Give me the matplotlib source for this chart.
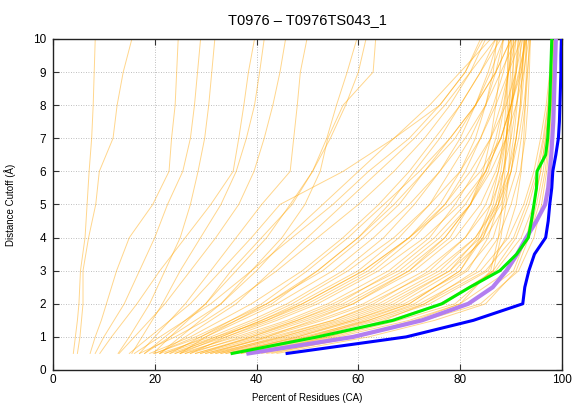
import numpy as np
import matplotlib
matplotlib.use("Agg")
import matplotlib.pyplot as plt

plt.rcParams['font.family'] = ['Liberation Sans', 'DejaVu Sans']

# distance cutoffs used for the highlighted models
cutoffs = [0.5, 1.0, 1.5, 2.0, 2.5, 3.0, 3.5, 4.0, 4.5, 5.0,
           5.5, 6.0, 6.5, 7.0, 7.5, 8.0, 8.5, 9.0, 9.5, 10.0]
green_pct = [35.2, 52.0, 66.8, 76.4, 81.9, 87.8, 91.1, 93.4, 94.0, 94.5,
             95.0, 95.1, 96.8, 97.2, 97.4, 97.6, 97.7, 97.8, 97.9, 98.0]
purple_pct = [38.4, 59.0, 72.5, 81.6, 86.4, 89.1, 91.2, 93.0, 95.0, 96.7,
              97.3, 97.6, 97.9, 98.1, 98.3, 98.4, 98.5, 98.6, 98.7, 98.8]
blue_pct = [46.0, 69.4, 82.6, 92.3, 92.7, 93.5, 94.6, 96.8, 97.3, 97.6,
            98.0, 98.2, 98.8, 99.3, 99.5, 99.6, 99.7, 99.8, 99.8, 99.9]

# coarser cutoffs for the background models
bg_cutoffs = [0.5, 1, 1.5, 2, 3, 4, 5, 6, 7, 8, 9, 10]
bg_models = [
    # sparse, poor models on the left
    [4.0, 4.4, 4.8, 5.1, 5.4, 6.3, 6.7, 7.1, 7.6, 7.9, 8.1, 8.3],
    [4.8, 5.3, 5.6, 5.9, 5.9, 7.0, 8.4, 9.1, 11.8, 12.6, 13.8, 15.5],
    [7.3, 8.3, 9.5, 10.5, 12.5, 15.0, 19.6, 22.8, 23.3, 24.0, 24.3, 24.6],
    [8.3, 10.0, 12.0, 14.0, 17.0, 20.0, 22.5, 25.5, 27.0, 27.8, 28.4, 29.0],
    [12.8, 15.0, 17.0, 19.0, 22.0, 25.0, 27.0, 28.5, 29.8, 30.6, 31.2, 31.8],
    [9.2, 11.5, 14.0, 16.5, 21.0, 26.0, 31.0, 35.4, 36.5, 37.5, 38.4, 39.6],
    [15.5, 17.5, 19.5, 21.5, 25.0, 29.0, 33.0, 36.0, 38.0, 39.6, 40.6, 41.5],
    [13.0, 16.0, 19.0, 22.0, 27.0, 32.0, 36.5, 39.5, 41.5, 43.2, 44.6, 45.7],
    [17.0, 20.0, 23.0, 26.0, 31.0, 36.0, 41.0, 46.6, 47.3, 48.0, 48.6, 49.9],
    [19.7, 23.0, 26.5, 30.0, 35.0, 41.0, 47.0, 51.0, 53.8, 55.7, 57.8, 59.7],
    [18.0, 22.0, 26.0, 30.0, 36.0, 42.0, 46.6, 51.0, 54.5, 57.5, 60.0, 61.5],
    [21.0, 25.0, 29.0, 33.0, 39.0, 45.0, 49.5, 52.5, 54.0, 57.0, 62.9, 63.4],
    # slow diagonal models
    [15.0, 19.0, 23.0, 27.0, 33.0, 39.0, 44.6, 57.0, 67.0, 76.0, 81.0, 84.5],
    [18.0, 23.0, 28.0, 33.0, 40.0, 46.0, 53.0, 60.0, 67.0, 74.0, 80.0, 86.0],
    [21.0, 26.0, 31.0, 36.0, 43.0, 50.0, 57.0, 64.0, 71.0, 77.0, 82.0, 87.0],
    [23.0, 29.0, 35.0, 41.0, 50.0, 58.0, 65.0, 72.0, 78.0, 83.0, 87.0, 90.0],
    [16.0, 21.0, 26.0, 31.0, 39.0, 47.0, 55.0, 62.0, 70.0, 76.0, 81.0, 84.0],
    [25.0, 30.0, 36.0, 43.0, 52.0, 60.0, 66.0, 71.0, 76.0, 80.0, 84.0, 88.0],
    # main bundle
    [17.0, 24.0, 30.0, 35.0, 44.0, 52.0, 60.0, 67.0, 73.0, 78.0, 82.0, 85.0],
    [19.0, 27.0, 33.0, 39.0, 49.0, 57.0, 64.0, 70.0, 75.0, 80.0, 84.0, 87.0],
    [20.0, 29.0, 36.0, 42.0, 53.0, 61.0, 68.0, 73.0, 78.0, 83.0, 87.0, 90.0],
    [21.0, 31.0, 39.0, 46.0, 57.0, 65.0, 71.0, 76.0, 80.0, 83.0, 85.5, 87.5],
    [22.0, 30.0, 37.0, 44.0, 55.0, 63.0, 70.0, 76.0, 81.0, 85.0, 88.0, 91.0],
    [23.0, 33.0, 41.0, 48.0, 60.0, 68.0, 74.0, 78.0, 82.0, 85.0, 87.0, 88.5],
    [24.0, 34.0, 43.0, 51.0, 63.0, 71.0, 77.0, 81.0, 84.0, 86.5, 88.5, 90.0],
    [24.0, 32.0, 40.0, 47.0, 58.0, 67.0, 74.0, 80.0, 84.0, 87.0, 89.5, 92.0],
    [25.0, 36.0, 46.0, 54.0, 66.0, 74.0, 79.0, 83.0, 86.0, 88.0, 89.5, 91.0],
    [26.0, 35.0, 44.0, 52.0, 64.0, 73.0, 80.0, 85.0, 88.0, 90.0, 91.5, 93.0],
    [26.0, 38.0, 48.0, 57.0, 69.0, 77.0, 82.0, 85.0, 87.0, 88.5, 89.5, 90.5],
    [27.0, 37.0, 47.0, 55.0, 68.0, 76.0, 82.0, 86.0, 89.0, 91.0, 92.5, 93.5],
    [28.0, 40.0, 50.0, 59.0, 71.0, 79.0, 84.0, 87.0, 89.0, 90.0, 91.0, 91.8],
    [28.0, 39.0, 49.0, 58.0, 70.0, 78.0, 82.0, 84.5, 86.0, 87.0, 87.8, 88.5],
    [29.0, 41.0, 52.0, 61.0, 73.0, 81.0, 86.0, 88.5, 90.0, 91.0, 92.0, 92.7],
    [30.0, 42.0, 53.0, 62.0, 75.0, 83.0, 87.5, 90.0, 91.5, 92.5, 93.2, 93.8],
    [30.0, 43.0, 55.0, 64.0, 76.0, 83.0, 87.0, 89.5, 91.0, 91.8, 92.3, 92.6],
    [31.0, 45.0, 57.0, 66.0, 78.0, 85.0, 89.0, 91.0, 92.0, 92.8, 93.3, 93.6],
    [32.0, 44.0, 55.0, 63.0, 74.0, 81.0, 85.0, 87.5, 89.0, 90.0, 90.8, 91.4],
    [32.0, 46.0, 58.0, 67.0, 78.0, 83.5, 86.0, 87.5, 88.5, 89.0, 89.3, 89.5],
    [29.0, 39.0, 48.0, 56.0, 67.0, 75.0, 81.0, 85.0, 88.0, 90.0, 92.0, 93.0],
    [33.0, 45.0, 56.0, 65.0, 77.0, 84.0, 88.0, 90.0, 91.0, 92.0, 92.6, 93.1],
    [27.0, 34.0, 42.0, 49.0, 61.0, 70.0, 77.0, 82.0, 86.0, 89.0, 91.0, 92.3],
    [22.0, 32.0, 42.0, 50.0, 62.0, 70.0, 76.0, 80.0, 83.0, 85.0, 86.5, 87.2],
    [31.0, 42.0, 51.0, 59.0, 70.0, 77.0, 82.0, 85.5, 87.5, 88.7, 89.5, 90.2],
    [25.0, 33.0, 41.0, 49.0, 61.0, 70.0, 78.0, 84.0, 88.0, 90.0, 91.7, 92.8],
    [20.0, 28.0, 35.0, 42.0, 52.0, 60.0, 67.0, 73.0, 79.0, 83.0, 86.0, 88.5],
    # good models close to the highlighted ones
    [33.0, 47.0, 59.0, 69.0, 81.0, 86.5, 88.5, 90.0, 91.0, 91.8, 92.2, 92.5],
    [34.0, 48.0, 60.0, 70.0, 80.0, 84.5, 87.0, 88.5, 89.5, 90.3, 91.0, 91.5],
    [34.0, 49.0, 62.0, 72.0, 84.0, 89.5, 92.5, 94.5, 95.8, 96.9, 97.6, 98.0],
    [35.0, 50.0, 63.0, 73.0, 85.0, 90.5, 93.0, 95.0, 96.3, 97.2, 97.8, 98.1],
    [36.0, 51.0, 64.0, 74.0, 85.5, 89.0, 91.0, 92.0, 92.5, 92.8, 93.0, 93.0],
    [37.0, 53.0, 66.0, 76.0, 87.0, 92.0, 94.5, 95.8, 96.8, 97.5, 97.9, 98.2],
    [38.0, 54.0, 67.0, 77.0, 86.5, 91.0, 93.5, 95.3, 96.5, 97.3, 97.8, 98.1],
    [39.0, 55.0, 68.0, 79.0, 86.5, 88.0, 89.0, 89.5, 89.9, 90.2, 90.4, 90.5],
    [40.0, 56.0, 70.0, 80.0, 89.5, 93.5, 95.5, 96.7, 97.4, 97.9, 98.2, 98.4],
    [41.0, 58.0, 72.0, 82.0, 90.5, 93.0, 94.5, 95.8, 96.8, 97.5, 97.9, 98.2],
    [42.0, 60.0, 73.0, 84.0, 91.5, 94.5, 96.0, 97.0, 97.6, 98.0, 98.3, 98.5],
    [44.0, 62.0, 75.0, 85.0, 91.0, 93.5, 95.0, 96.3, 97.2, 97.8, 98.2, 98.4],
    [43.0, 59.0, 71.0, 80.0, 86.0, 87.5, 88.3, 88.8, 89.1, 89.3, 89.4, 89.5],
    [40.0, 54.0, 65.0, 73.0, 83.0, 87.5, 90.0, 91.8, 92.8, 93.3, 93.6, 93.8],
    [36.0, 50.0, 61.0, 70.0, 80.0, 84.0, 86.5, 88.0, 89.0, 89.7, 90.3, 91.0],
    [35.0, 48.0, 59.0, 68.0, 79.0, 84.5, 87.5, 89.5, 90.5, 91.2, 91.7, 92.0],
    [37.0, 51.0, 62.0, 71.0, 81.5, 85.5, 87.5, 88.5, 89.2, 89.6, 89.9, 90.0],
]

fig = plt.figure(figsize=(5.74, 4.04), dpi=100)
ax = fig.add_axes([0.0923, 0.0842, 0.8867, 0.8193])

for m in bg_models:
    ax.plot(m, bg_cutoffs, color='#ffa500', alpha=0.45, lw=0.7, zorder=2)

ax.plot(purple_pct, cutoffs, color='#b27ef0', lw=3.0, zorder=3)
ax.plot(green_pct, cutoffs, color='#00ee00', lw=2.2, zorder=4)
ax.plot(blue_pct, cutoffs, color='#0000ff', lw=2.2, zorder=5)

ax.set_xlim(0, 100)
ax.set_ylim(0, 10)
ax.set_xticks(range(0, 101, 20))
ax.set_yticks(range(0, 11, 1))
ax.grid(True, color='#aaaaaa', linestyle=(0, (1, 2)), lw=0.6)
ax.tick_params(direction='in', length=4, labelsize=8.5, top=True, right=True,
               color='#333333')
ax.tick_params(axis='x', pad=3)
ax.tick_params(axis='y', pad=5)
for s in ax.spines.values():
    s.set_color('#222222')
    s.set_linewidth(1.0)

ax.set_title('T0976 – T0976TS043_1', fontsize=10.5, pad=11)
ax.set_xlabel('Percent of Residues (CA)', fontsize=7, labelpad=5)
ax.set_ylabel('Distance Cutoff (Å)', fontsize=7, labelpad=12)

plt.savefig('out.png', dpi=100)
